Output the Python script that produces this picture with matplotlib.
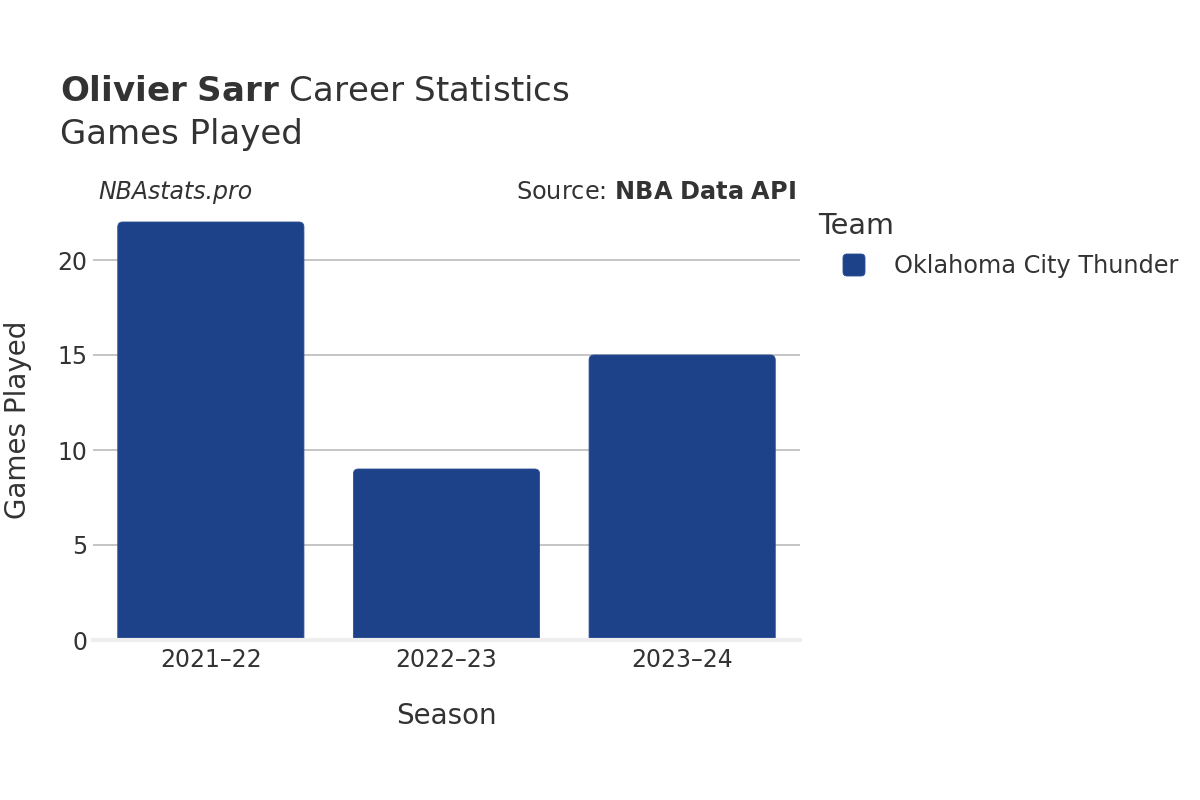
import matplotlib
matplotlib.use("Agg")
import matplotlib.pyplot as plt
from matplotlib.patches import FancyBboxPatch
from matplotlib.transforms import IdentityTransform

# data
seasons = ["2021–22", "2022–23", "2023–24"]
games_played = [22, 9, 15]
team = "Oklahoma City Thunder"
team_color = "#1d428a"

text_color = "#333333"
plt.rcParams['font.family'] = ['DejaVu Sans']

fig = plt.figure(figsize=(12, 8), dpi=100)
ax = fig.add_axes([93 / 1200, 160 / 800, 707 / 1200, 440 / 800])

bars = ax.bar(range(len(seasons)), games_played, width=0.79, color=team_color)

# swap plain bars for ones with slightly rounded corners
x_px = 707 / 3.0          # pixels per category
y_px = 19.0               # pixels per game
r = 5 / x_px
for b in bars:
    x0, w, h = b.get_x(), b.get_width(), b.get_height()
    b.set_visible(False)
    p = FancyBboxPatch((x0, -1.0), w, h + 1.0,
                       boxstyle="round,pad=0,rounding_size=%f" % r,
                       mutation_aspect=x_px / y_px,
                       facecolor=team_color, edgecolor="#2c4f92", linewidth=0.6,
                       zorder=2)
    ax.add_patch(p)

ax.set_xlim(-0.5, len(seasons) - 0.5)
ax.set_ylim(0, 440 / y_px)
ax.set_yticks([0, 5, 10, 15, 20])
ax.set_xticks(range(len(seasons)))
ax.set_xticklabels(seasons)

ax.grid(axis="y", color="#bbbbbb", linewidth=1.2, zorder=0)
ax.set_axisbelow(True)
ax.axhline(0, color="#eeeeee", linewidth=3, zorder=3, clip_on=False)
for s in ax.spines.values():
    s.set_visible(False)
ax.tick_params(axis="both", length=0, labelsize=17, colors=text_color)
ax.tick_params(axis="y", pad=4)
ax.tick_params(axis="x", pad=6)

ax.set_xlabel("Season", fontsize=20, color=text_color, labelpad=21)
ax.set_ylabel("Games Played", fontsize=20, color=text_color, labelpad=18)

# title block
fig.text(60 / 1200, 1 - 101 / 800, "$\\bf{Olivier\\ Sarr}$ Career Statistics",
         fontsize=24.5, color=text_color, va="baseline")
fig.text(60 / 1200, 1 - 144 / 800, "Games Played", fontsize=24.5,
         color=text_color, va="baseline")

fig.text(98 / 1200, 1 - 192 / 800, "NBAstats.pro", fontsize=17, style="italic",
         color=text_color, va="center")
fig.text(796 / 1200, 1 - 192 / 800, "Source: $\\bf{NBA\\ Data\\ API}$", fontsize=17.3,
         color=text_color, va="center", ha="right")

# legend
fig.text(818 / 1200, 1 - 226 / 800, "Team", fontsize=20.7, color=text_color, va="center")
fig.patches.append(FancyBboxPatch((843, 800 - 276), 22, 22,
                                  boxstyle="round,pad=0,rounding_size=4",
                                  transform=IdentityTransform(),
                                  facecolor=team_color, edgecolor="#2c4f92",
                                  linewidth=0.6, figure=fig))
fig.text(894 / 1200, 1 - 266 / 800, team, fontsize=17.3, color=text_color, va="center")

fig.savefig("out.png", dpi=100)
